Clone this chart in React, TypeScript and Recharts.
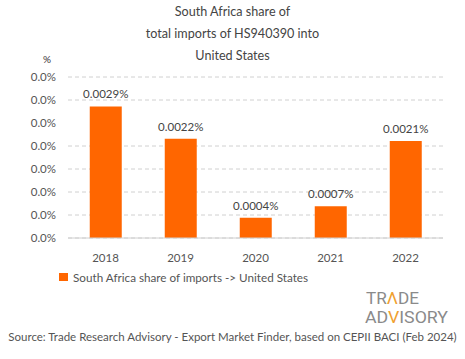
import React from 'react';
import { BarChart, Bar, XAxis, YAxis, CartesianGrid, LabelList } from 'recharts';

const years = ['2018', '2019', '2020', '2021', '2022'];
const shares = [0.00286, 0.00216, 0.00044, 0.00069, 0.00211];
const yTicks = [0, 0.0005, 0.001, 0.0015, 0.002, 0.0025, 0.003, 0.0035];
const titleLines = ['South Africa share of', 'total imports of HS940390 into', 'United States'];
const seriesName = 'South Africa share of imports -> United States';
const sourceText = 'Source: Trade Research Advisory - Export Market Finder, based on CEPII BACI (Feb 2024)';

const data = years.map((year, i) => ({ year, share: shares[i] }));

const FONT = 'Lato, "Open Sans", sans-serif';
const LOGO_FONT = '"Liberation Sans Narrow", Roboto, sans-serif';
const ORANGE = '#ff6600';
const TEXT = '#555';

export default function App() {
  return (
    <div
      style={{
        position: 'absolute',
        left: 0,
        top: 0,
        width: 465,
        height: 359,
        background: '#fff',
        fontFamily: FONT,
        color: TEXT,
      }}
    >
      {titleLines.map((line, i) => (
        <div
          key={line}
          style={{
            position: 'absolute',
            left: 0,
            width: 465,
            top: 3 + i * 22,
            textAlign: 'center',
            fontSize: 12.6,
            lineHeight: '18px',
            color: '#444',
          }}
        >
          {line}
        </div>
      ))}
      <div style={{ position: 'absolute', left: 43, top: 53, fontSize: 10, color: '#333' }}>%</div>

      <BarChart
        width={465}
        height={359}
        data={data}
        margin={{ top: 77, right: 22, left: 8, bottom: 91 }}
        barCategoryGap="29%"
      >
        <CartesianGrid vertical={false} stroke="#d0d0d0" strokeDasharray="4 3" />
        <XAxis
          dataKey="year"
          axisLine={{ stroke: '#d0d0d0' }}
          tickLine={false}
          height={30}
          tick={{ fill: TEXT, fontSize: 11.5, fontFamily: FONT }}
          tickMargin={10}
        />
        <YAxis
          width={60}
          domain={[0, 0.0035]}
          ticks={yTicks}
          axisLine={false}
          tickLine={false}
          tickFormatter={(v: number) => v.toFixed(1) + '%'}
          tick={{ fill: TEXT, fontSize: 11.5, fontFamily: FONT }}
          tickMargin={6}
        />
        <Bar dataKey="share" fill={ORANGE} isAnimationActive={false}>
          <LabelList
            dataKey="share"
            position="top"
            offset={8}
            formatter={(v: number) => v.toFixed(4) + '%'}
            style={{ fill: '#444', fontSize: 11.5, fontFamily: FONT }}
          />
        </Bar>
      </BarChart>

      <div style={{ position: 'absolute', left: 59, top: 270, display: 'flex', alignItems: 'center', fontSize: 11.7 }}>
        <span style={{ width: 9, height: 8, background: ORANGE, display: 'inline-block', marginRight: 5 }} />
        <span>{seriesName}</span>
      </div>

      <svg style={{ position: 'absolute', left: 355, top: 285 }} width={105} height={42}>
        <text x={11} y={19} fill="#8a8a8a" fontSize={16} fontFamily={LOGO_FONT} textLength={53} lengthAdjust="spacingAndGlyphs">
          TR<tspan fill="#f0a030">Λ</tspan>DE
        </text>
        <text x={10} y={38} fill="#8a8a8a" fontSize={16} fontFamily={LOGO_FONT} textLength={83} lengthAdjust="spacingAndGlyphs">
          AD<tspan fill="#f0a030">V</tspan>ISORY
        </text>
      </svg>

      <div style={{ position: 'absolute', left: 0, width: 465, top: 330, textAlign: 'center', fontSize: 11.5 }}>
        {sourceText}
      </div>
    </div>
  );
}
